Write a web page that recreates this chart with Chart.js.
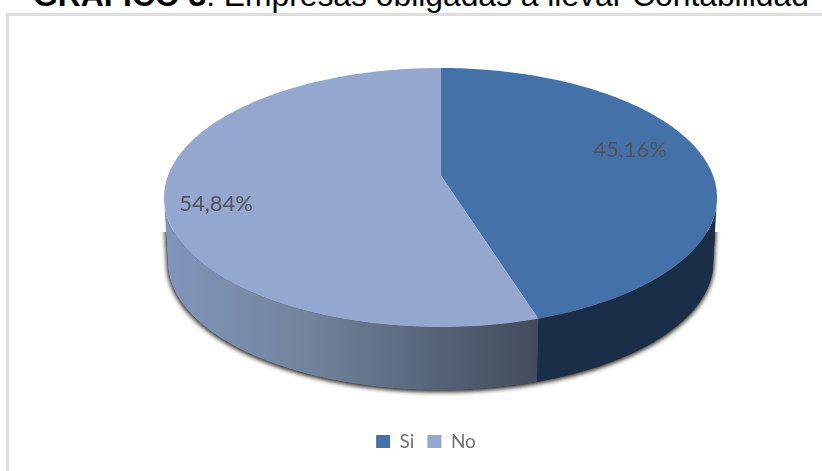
<!DOCTYPE html>
<html>
<head>
<meta charset="utf-8">
<title>Empresas obligadas a llevar Contabilidad</title>
<script src="https://cdn.jsdelivr.net/npm/chart.js@4"></script>
<style>
  html, body { margin: 0; background: #fff; overflow: hidden; }
  #wrap { position: relative; width: 822px; height: 471px; overflow: hidden; }
  #frame { position: absolute; left: 6px; top: 13px; width: 830px; height: 470px; border: 3px solid #dcdcdc; box-sizing: border-box; }
  #title { position: absolute; left: 33px; top: -23px; white-space: nowrap; font: 31.8px "Liberation Sans", Arial, sans-serif; color: #000; }
  canvas { position: absolute; left: 0; top: 0; }
</style>
</head>
<body>
<div id="wrap">
  <div id="title"><b>GRAFICO 3</b>: Empresas obligadas a llevar Contabilidad</div>
  <div id="frame"></div>
  <canvas id="js_pie_chart" width="822" height="471"></canvas>
</div>
<script>
const categories = ['Si', 'No']
const percentages = [45.16, 54.84]
const topColors = ['#4472a8', '#93a7cf']

// Perspective disc: unit circle point (u, v) to screen, v grows towards the viewer
const tilt = 0.1737
function project(u, v, plane) {
  const w = 1 - tilt * v
  return [plane.cx + plane.a * u / w, plane.cy + plane.b * v / w]
}
const topPlane = { cx: 440.5, cy: 175, a: 272.3, b: 125.6 }
const basePlane = { cx: 440.5, cy: 240, a: 268.5, b: 124 }

// the disc's outline is widest at these angles, the wall runs between them
const wallFrom = Math.asin(tilt)
const wallTo = Math.PI - wallFrom

function traceRim(ctx, from, to, plane, move) {
  const steps = 160
  for (let i = 0; i <= steps; i++) {
    const t = from + (to - from) * i / steps
    const p = project(Math.cos(t), Math.sin(t), plane)
    if (i === 0 && move) ctx.moveTo(p[0], p[1])
    else ctx.lineTo(p[0], p[1])
  }
}

function traceWall(ctx, start, end) {
  ctx.beginPath()
  traceRim(ctx, start, end, topPlane, true)
  traceRim(ctx, end, start, basePlane, false)
  ctx.closePath()
}

const piePerspective = {
  id: 'piePerspective',
  beforeDatasetDraw(chart, args, opts) {
    const ctx = chart.ctx
    const arcs = chart.getDatasetMeta(0).data
    ctx.save()

    // soft shadow under the front wall, two passes to darken it
    ctx.save()
    ctx.beginPath()
    ctx.rect(0, opts.shadowTop, chart.width, chart.height - opts.shadowTop)
    ctx.clip()
    ctx.shadowColor = 'rgba(50,45,35,0.9)'
    ctx.shadowBlur = 5
    ctx.shadowOffsetY = 1
    ctx.fillStyle = '#445'
    traceWall(ctx, wallFrom, wallTo)
    ctx.fill()
    ctx.fill()
    ctx.restore()

    // side walls, only the part of each slice that faces the viewer
    arcs.forEach((arc, i) => {
      const start = Math.max(arc.startAngle, wallFrom)
      const end = Math.min(arc.endAngle, wallTo)
      if (end <= start) return
      let fill = opts.wallDark
      if (i === 1) {
        fill = ctx.createLinearGradient(166, 0, 537, 0)
        fill.addColorStop(0, opts.wallLight)
        fill.addColorStop(0.35, '#74869f')
        fill.addColorStop(1, opts.wallMid)
      }
      ctx.fillStyle = fill
      traceWall(ctx, start, end)
      ctx.fill()
    })

    // top face of each slice, angles come from the arc elements
    arcs.forEach((arc, i) => {
      ctx.beginPath()
      ctx.moveTo(topPlane.cx, topPlane.cy)
      traceRim(ctx, arc.startAngle, arc.endAngle, topPlane, false)
      ctx.closePath()
      ctx.fillStyle = topColors[i]
      ctx.fill()
    })

    // value labels
    ctx.fillStyle = '#50535a'
    ctx.font = '22px Lato, "Open Sans", sans-serif'
    ctx.textAlign = 'center'
    ctx.textBaseline = 'middle'
    percentages.forEach((v, i) => {
      const text = v.toFixed(2).replace('.', ',') + '%'
      ctx.fillText(text, opts.labelSpots[i][0], opts.labelSpots[i][1])
    })
    ctx.restore()
    return false
  }
}

function pieChart() {
  const data = {
    labels: categories,
    datasets: [
      {
        data: percentages,
        backgroundColor: topColors,
        borderWidth: 0,
      }
    ]
  }

  const options = {
    responsive: false,
    animation: false,
    layout: {
      padding: { left: 30, bottom: 10 },
    },
    plugins: {
      tooltip: { enabled: false },
      legend: {
        position: 'bottom',
        labels: {
          boxWidth: 14,
          boxHeight: 13,
          padding: 13,
          color: '#6f6f6f',
          font: { family: 'Lato', size: 19 },
        }
      },
      piePerspective: {
        wallDark: '#1b2e47',
        wallLight: '#7f95ba',
        wallMid: '#414b5b',
        shadowTop: 232,
        labelSpots: [[630, 150], [216, 204]],
      }
    }
  }

  const config = {
    type: 'pie',
    data,
    options,
    plugins: [piePerspective]
  }

  const ctx = document.getElementById('js_pie_chart').getContext('2d')
  new Chart(ctx, config)
}

pieChart()
</script>
</body>
</html>
